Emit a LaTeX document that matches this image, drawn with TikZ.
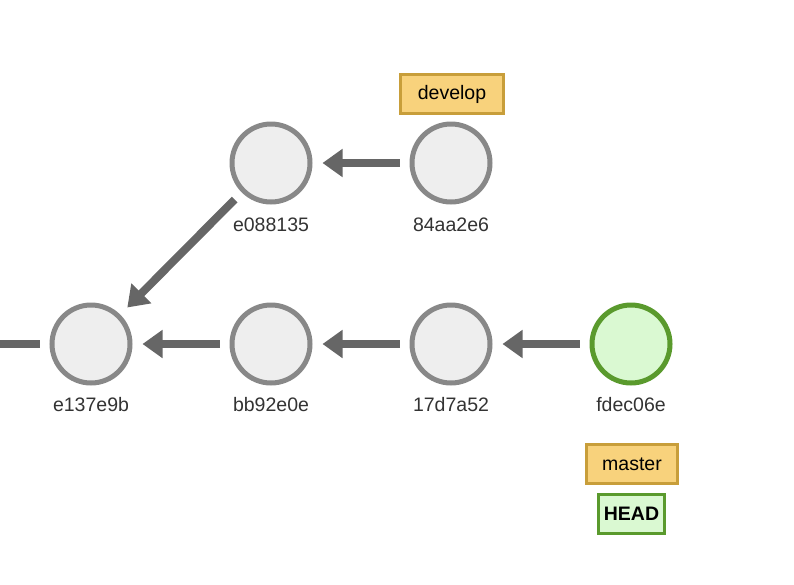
\documentclass[tikz,border=0pt]{standalone}
\usepackage{fontspec}
\setmainfont{Liberation Sans}
\usetikzlibrary{arrows.meta}
\definecolor{cfill}{HTML}{EEEEEE}
\definecolor{cstroke}{HTML}{888888}
\definecolor{gfill}{HTML}{DAF9D2}
\definecolor{gstroke}{HTML}{5A9A2D}
\definecolor{ofill}{HTML}{F8D27C}
\definecolor{ostroke}{HTML}{C89E3A}
\definecolor{arrowc}{HTML}{666666}
\definecolor{txt}{HTML}{333333}
\begin{document}
\begin{tikzpicture}[x=1pt,y=-1pt,
  commit/.style={circle, draw=cstroke, fill=cfill, line width=5pt, minimum size=78pt, inner sep=0pt},
  headcommit/.style={commit, draw=gstroke, fill=gfill},
  hashlabel/.style={text=txt, font=\fontsize{19.5}{22}\selectfont, inner sep=0pt},
  branchbox/.style={draw=ostroke, fill=ofill, line width=3pt, minimum height=39pt, inner sep=0pt, font=\fontsize{19.5}{22}\selectfont, text=black},
  headbox/.style={draw=gstroke, fill=gfill, line width=3pt, minimum height=39pt, inner sep=0pt, font=\fontsize{19.5}{22}\selectfont\bfseries, text=black},
  parentarrow/.style={draw=arrowc, line width=8pt, shorten >=10pt, shorten <=10pt, -{Triangle[length=20pt,width=27pt]}},
  stubline/.style={draw=arrowc, line width=8pt, shorten >=10pt}
]
\useasboundingbox (0,0) rectangle (794,584);

\node[commit] (e1) at (91,344) {};
\node[commit] (bb) at (271,344) {};
\node[commit] (c17) at (451,344) {};
\node[headcommit] (fd) at (631,344) {};
\node[commit] (e0) at (271,163) {};
\node[commit] (a84) at (451,163) {};

\node[hashlabel] (le1) at (91,405) {e137e9b};
\node[hashlabel] (lbb) at (271,405) {bb92e0e};
\node[hashlabel] (lc17) at (451,405) {17d7a52};
\node[hashlabel] (lfd) at (631,405) {fdec06e};
\node[hashlabel] (le0) at (271,225) {e088135};
\node[hashlabel] (la84) at (451,225) {84aa2e6};

\node[branchbox, minimum width=103pt] (develop) at (452,94) {develop};
\node[branchbox, minimum width=91pt] (master) at (632,464) {master};
\node[headbox, minimum width=66pt] (head) at (631.5,514) {HEAD};

\coordinate (stub) at (0,344);
\draw[stubline] (stub) -- (e1);
\draw[parentarrow] (bb) -- (e1);
\draw[parentarrow] (c17) -- (bb);
\draw[parentarrow] (fd) -- (c17);
\draw[parentarrow] (a84) -- (e0);
\draw[parentarrow] (e0) -- (e1);
\end{tikzpicture}
\end{document}
